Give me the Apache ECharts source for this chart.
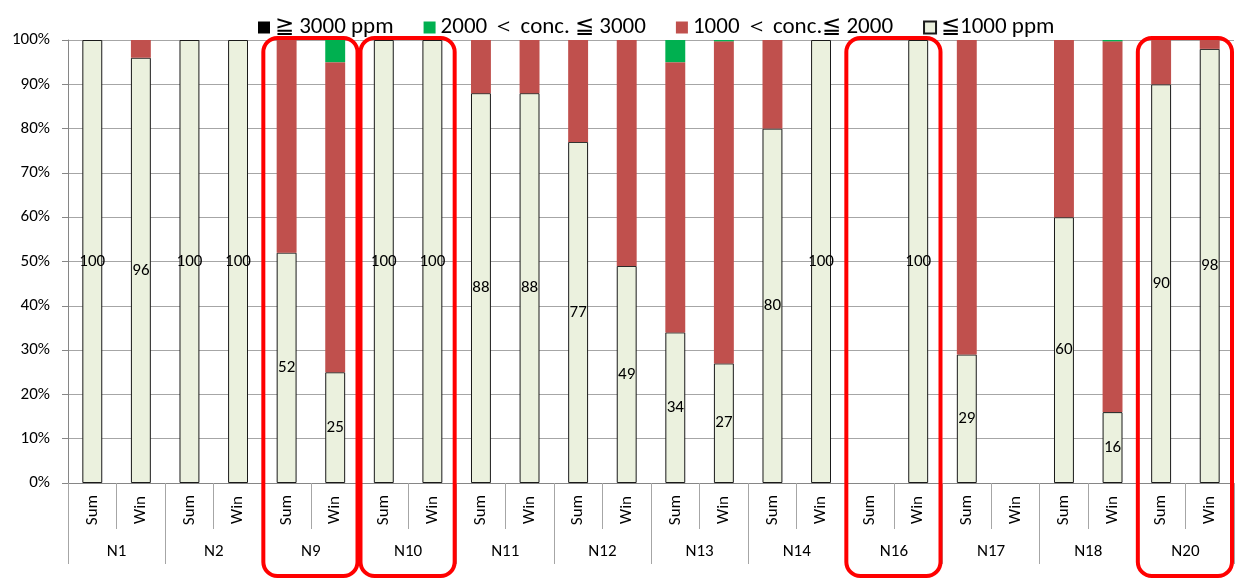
<!DOCTYPE html>
<html>
<head>
<meta charset="utf-8">
<script src="https://cdn.jsdelivr.net/npm/echarts@6/dist/echarts.min.js"></script>
<style>
  html, body { margin: 0; padding: 0; background: #fff; }
  #chart { width: 1236px; height: 579px; }
</style>
</head>
<body>
<div id="chart"></div>
<script>
// Sites, each measured in summer and winter
const groups = ['N1', 'N2', 'N9', 'N10', 'N11', 'N12', 'N13', 'N14', 'N16', 'N17', 'N18', 'N20'];
const seasons = groups.flatMap(() => ['Sum', 'Win']);

// Share of time (%) in each CO2 concentration band; null = no measurement
const below1000 = [100, 96, 100, 100, 52, 25, 100, 100, 88, 88, 77, 49, 34, 27, 80, 100, null, 100, 29, null, 60, 16, 90, 98];
const from1000to2000 = [0, 4, 0, 0, 48, 70, 0, 0, 12, 12, 23, 51, 61, 72.7, 20, 0, null, 0, 71, null, 40, 83.7, 10, 2];
const from2000to3000 = [0, 0, 0, 0, 0, 5, 0, 0, 0, 0, 0, 0, 5, 0.3, 0, 0, null, 0, 0, null, 0, 0.3, 0, 0];
const above3000 = [0, 0, 0, 0, 0, 0, 0, 0, 0, 0, 0, 0, 0, 0, 0, 0, null, 0, 0, null, 0, 0, 0, 0];

const yTicks = [0, 10, 20, 30, 40, 50, 60, 70, 80, 90, 100];
const highlighted = ['N9', 'N10', 'N16', 'N20'];

const names = ['≧ 3000 ppm', '2000 ＜ conc. ≦ 3000', '1000 ＜ conc.≦ 2000', '≦1000 ppm'];
const FONT = 'Carlito, Lato, "Noto Sans", sans-serif';
const GRID_COLOR = '#A6A6A6';
const AXIS_COLOR = '#868686';

const chart = echarts.init(document.getElementById('chart'));

function bar(name, data, color, extra) {
  return Object.assign({
    name, type: 'bar', stack: 'share', data,
    xAxisIndex: 0, barWidth: '41%',
    itemStyle: { color },
    emphasis: { disabled: true },
    animation: false
  }, extra || {});
}

chart.setOption({
  animation: false,
  textStyle: { fontFamily: FONT },
  legend: {
    data: names,
    top: 11, left: 253,
    icon: 'rect', itemWidth: 12, itemHeight: 12, itemGap: 30,
    textStyle: { fontFamily: FONT, fontSize: 23, color: '#000' },
    selectedMode: false
  },
  grid: { left: 68, right: 2, top: 40, bottom: 96, containLabel: false },
  xAxis: [
    {
      type: 'category', data: seasons, position: 'bottom',
      axisLine: { show: true, lineStyle: { color: AXIS_COLOR, width: 1 } },
      axisTick: { show: true, interval: 0, length: 46, lineStyle: { color: GRID_COLOR } },
      axisLabel: { interval: 0, rotate: 90, align: 'center', verticalAlign: 'middle', margin: 27,
                   fontSize: 17, color: '#000', fontFamily: FONT },
      splitLine: { show: false }
    },
    {
      type: 'category', data: groups, position: 'bottom',
      axisLine: { show: true, lineStyle: { color: AXIS_COLOR, width: 1 } },
      axisTick: { show: true, interval: 0, length: 81, lineStyle: { color: GRID_COLOR } },
      axisLabel: { interval: 0, margin: 60, fontSize: 17, color: '#000', fontFamily: FONT },
      splitLine: { show: false }
    }
  ],
  yAxis: {
    type: 'value', min: yTicks[0], max: yTicks[yTicks.length - 1], interval: 10,
    axisLine: { show: true, lineStyle: { color: AXIS_COLOR } },
    axisTick: { show: true, length: 6, lineStyle: { color: AXIS_COLOR } },
    axisLabel: { formatter: '{value}%', fontSize: 17, color: '#000', margin: 18, fontFamily: FONT },
    splitLine: { show: true, lineStyle: { color: GRID_COLOR, width: 1 } }
  },
  series: [
    bar(names[3], below1000, '#EBF1DE', {
      itemStyle: { color: '#EBF1DE', borderColor: '#1a1a1a', borderWidth: 1 },
      label: { show: true, position: 'inside', color: '#000', fontSize: 17, fontFamily: FONT,
               formatter: p => (p.value == null ? '' : String(p.value)) }
    }),
    bar(names[2], from1000to2000, '#C0504D'),
    bar(names[1], from2000to3000, '#00B050'),
    bar(names[0], above3000, '#000000')
  ]
});

// Rounded frames around the highlighted sites, placed from the category axis
function drawFrames() {
  const c0 = chart.convertToPixel({ xAxisIndex: 0 }, 0);
  const c1 = chart.convertToPixel({ xAxisIndex: 0 }, 1);
  const band = c1 - c0;
  const top = chart.convertToPixel({ yAxisIndex: 0 }, 100) - 2;
  const bottom = chart.getHeight() - 3;
  const frames = highlighted.map(g => {
    const gi = groups.indexOf(g);
    const left = chart.convertToPixel({ xAxisIndex: 0 }, gi * 2) - band / 2 + 1;
    const right = chart.convertToPixel({ xAxisIndex: 0 }, gi * 2 + 1) + band / 2 - 2;
    return {
      type: 'rect', z: 100, silent: true,
      shape: { x: left, y: top, width: right - left, height: bottom - top, r: 14 },
      style: { fill: 'none', stroke: '#FF0000', lineWidth: 4 }
    };
  });
  chart.setOption({ graphic: frames });
}
drawFrames();
</script>
</body>
</html>
